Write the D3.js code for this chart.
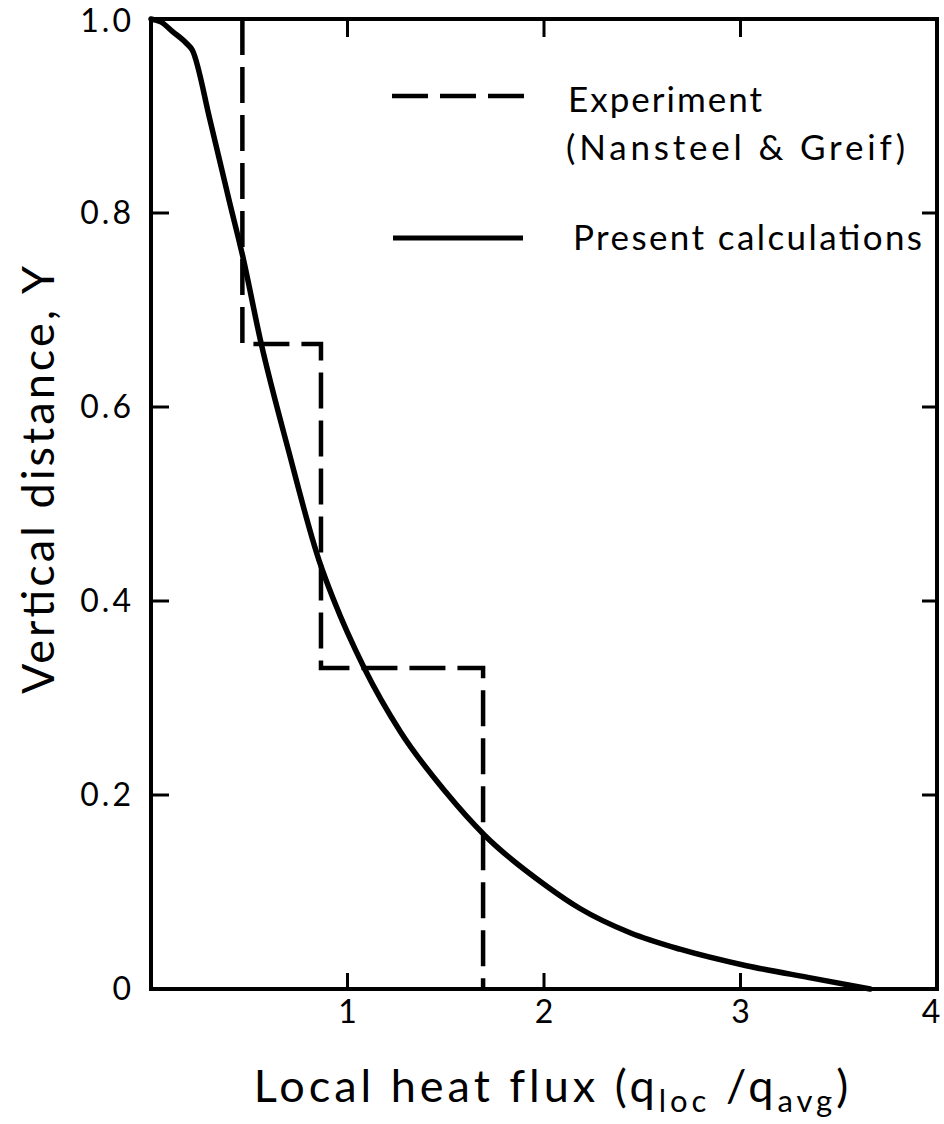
<!DOCTYPE html>
<html>
<head>
<meta charset="utf-8">
<script src="https://cdn.jsdelivr.net/npm/d3@7"></script>
<style>
  body { margin: 0; background: #fff; }
  text { font-family: "Lato", "DejaVu Sans", sans-serif; fill: #000; }
</style>
</head>
<body>
<div id="container"></div>
<script>
// present calculations (solid curve)
var calcFlux = [0, 0.05, 0.11, 0.18, 0.21, 0.30, 0.40, 0.465, 0.56, 0.70, 0.855, 0.93, 1.085, 1.27, 1.5, 1.695, 2.014, 2.183, 2.438, 2.692, 3.03, 3.37, 3.66];
var calcY = [1.0, 0.997, 0.987, 0.975, 0.968, 0.896, 0.811, 0.757, 0.666, 0.555, 0.442, 0.401, 0.331, 0.265, 0.203, 0.159, 0.106, 0.083, 0.058, 0.041, 0.024, 0.011, 0.0];

// experiment, Nansteel & Greif (dashed steps)
var expFlux = [0.465, 0.465, 0.865, 0.865, 1.69, 1.69];
var expY = [1.0, 0.665, 0.665, 0.331, 0.331, 0.0];

var xTicks = [1, 2, 3, 4];
var yTicks = [0, 0.2, 0.4, 0.6, 0.8, 1.0];
var yTickLabels = ["0", "0.2", "0.4", "0.6", "0.8", "1.0"];

var width = 944, height = 1124;
var margin = {left: 151, right: 7, top: 19, bottom: 135};

var svg = d3.select("#container").append("svg")
  .attr("width", width).attr("height", height);

var x = d3.scaleLinear().domain([0, 4]).range([margin.left, width - margin.right]);
var y = d3.scaleLinear().domain([0, 1]).range([height - margin.bottom, margin.top]);

var calc = calcFlux.map(function (d, i) { return [d, calcY[i]]; });
var exp = expFlux.map(function (d, i) { return [d, expY[i]]; });

var line = d3.line()
  .x(function (d) { return x(d[0]); })
  .y(function (d) { return y(d[1]); });

// frame
svg.append("rect")
  .attr("x", x(0)).attr("y", y(1))
  .attr("width", x(4) - x(0)).attr("height", y(0) - y(1))
  .attr("fill", "none").attr("stroke", "#000").attr("stroke-width", 4);

// inward ticks
var tickX = [1, 2, 3];
var tickY = [0.2, 0.4, 0.6, 0.8];
tickX.forEach(function (t) {
  svg.append("line").attr("x1", x(t)).attr("x2", x(t))
    .attr("y1", y(0)).attr("y2", y(0) - 16)
    .attr("stroke", "#000").attr("stroke-width", 3);
  svg.append("line").attr("x1", x(t)).attr("x2", x(t))
    .attr("y1", y(1)).attr("y2", y(1) + 18)
    .attr("stroke", "#000").attr("stroke-width", 3);
});
tickY.forEach(function (t) {
  svg.append("line").attr("x1", x(0)).attr("x2", x(0) + 18)
    .attr("y1", y(t)).attr("y2", y(t))
    .attr("stroke", "#000").attr("stroke-width", 3);
  svg.append("line").attr("x1", x(4)).attr("x2", x(4) - 15)
    .attr("y1", y(t)).attr("y2", y(t))
    .attr("stroke", "#000").attr("stroke-width", 3);
});

// tick labels
svg.selectAll(".xl").data(xTicks).enter().append("text")
  .attr("x", function (d) { return d === 4 ? x(d) - 6 : x(d); })
  .attr("y", y(0) + 34)
  .attr("text-anchor", "middle")
  .attr("font-size", 32)
  .text(function (d) { return d; });

svg.selectAll(".yl").data(yTicks).enter().append("text")
  .attr("x", x(0) - 17)
  .attr("y", function (d) { return d === 1 ? y(d) + 13 : y(d) + 11; })
  .attr("text-anchor", "end")
  .attr("font-size", 32)
  .attr("letter-spacing", 3)
  .text(function (d, i) { return yTickLabels[i]; });

// curves
svg.append("path").datum(exp)
  .attr("d", line)
  .attr("fill", "none").attr("stroke", "#000")
  .attr("stroke-width", 4.5).attr("stroke-dasharray", "36,12");

svg.append("path").datum(calc)
  .attr("d", line.curve(d3.curveMonotoneX))
  .attr("fill", "none").attr("stroke", "#000")
  .attr("stroke-width", 5.5).attr("stroke-linecap", "round");

// legend
svg.append("line").attr("x1", 392).attr("x2", 524).attr("y1", 96).attr("y2", 96)
  .attr("stroke", "#000").attr("stroke-width", 4.5).attr("stroke-dasharray", "36,12");
svg.append("line").attr("x1", 393).attr("x2", 523).attr("y1", 238).attr("y2", 238)
  .attr("stroke", "#000").attr("stroke-width", 5);

var legendFont = 35;
svg.append("text").attr("x", 568).attr("y", 112).attr("font-size", legendFont)
  .attr("textLength", 194).attr("lengthAdjust", "spacing").text("Experiment");
svg.append("text").attr("x", 566).attr("y", 160).attr("font-size", legendFont)
  .attr("textLength", 339).attr("lengthAdjust", "spacing").text("(Nansteel & Greif)");
svg.append("text").attr("x", 573).attr("y", 250).attr("font-size", legendFont)
  .attr("textLength", 349).attr("lengthAdjust", "spacing").text("Present calculations");

// axis titles
var xt = svg.append("text").attr("x", 553).attr("y", 1102)
  .attr("text-anchor", "middle").attr("font-size", 45).attr("letter-spacing", 4);
xt.append("tspan").text("Local heat flux (q");
xt.append("tspan").attr("font-size", 31).attr("dy", 10).text("loc");
xt.append("tspan").attr("dy", -10).text(" /q");
xt.append("tspan").attr("font-size", 31).attr("dy", 10).text("avg");
xt.append("tspan").attr("dy", -10).text(")");

svg.append("text")
  .attr("transform", "translate(54,480) rotate(-90)")
  .attr("text-anchor", "middle").attr("font-size", 45)
  .attr("textLength", 428).attr("lengthAdjust", "spacing")
  .text("Vertical distance, Y");
</script>
</body>
</html>
